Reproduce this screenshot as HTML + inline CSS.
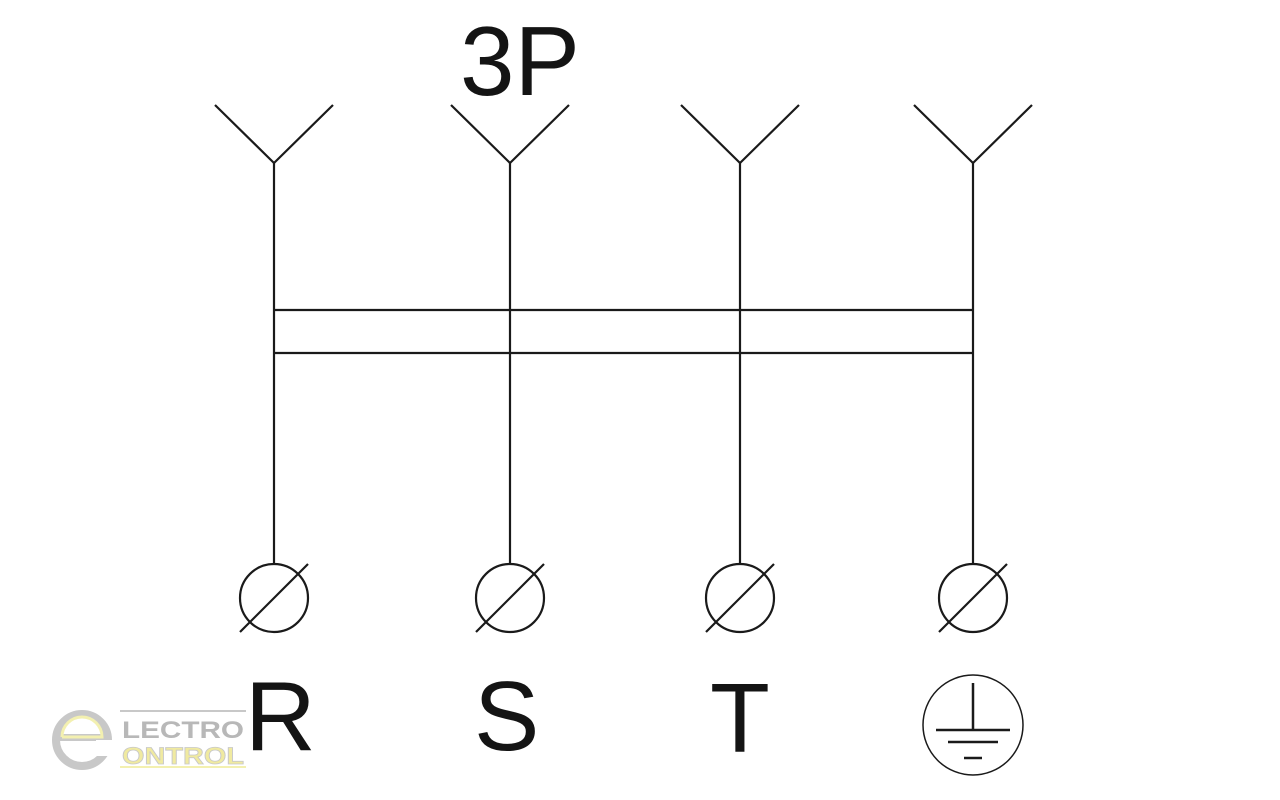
<!DOCTYPE html>
<html><head><meta charset="utf-8"><style>
html,body{margin:0;padding:0;background:#fff;width:1280px;height:800px;overflow:hidden}
</style></head><body>
<svg width="1280" height="800" viewBox="0 0 1280 800" xmlns="http://www.w3.org/2000/svg">
<g stroke="#1a1a1a" stroke-width="2.2" fill="none">
<g id="c">
<polyline points="215,105 274,163 333,105"/>
<line x1="274" y1="163" x2="274" y2="564"/>
<circle cx="274" cy="598" r="34"/>
<line x1="240" y1="632" x2="308" y2="564"/>
</g>
<use href="#c" x="236"/>
<use href="#c" x="466"/>
<use href="#c" x="699"/>
<line x1="274" y1="310" x2="973" y2="310"/>
<line x1="274" y1="353" x2="973" y2="353"/>
<circle cx="973" cy="725" r="50" stroke-width="1.5"/>
<line x1="973" y1="683" x2="973" y2="731" stroke-width="2.5"/>
<line x1="936" y1="730" x2="1010" y2="730" stroke-width="2.5"/>
<line x1="948" y1="742" x2="998" y2="742" stroke-width="2.5"/>
<line x1="964" y1="758" x2="982" y2="758" stroke-width="2.5"/>
</g>
<g font-family="Liberation Sans, sans-serif" fill="#141414" font-size="98">
<text x="460" y="95">3P</text>
<text x="245" y="750">R</text>
<text x="474" y="750">S</text>
<text x="710" y="752">T</text>
</g>
<g>
<circle cx="82" cy="740" r="26" fill="none" stroke="#c8c8c8" stroke-width="8"/>
<rect x="60" y="734" width="46" height="7" fill="#c8c8c8"/>
<rect x="96" y="740" width="16" height="16" fill="#fff"/>
<path d="M62 737 A20 20 0 1 1 102 737 L62 737" fill="none" stroke="#f3f0b0" stroke-width="3"/>
<line x1="120" y1="711" x2="246" y2="711" stroke="#c8c8c8" stroke-width="2"/>
<line x1="120" y1="767" x2="246" y2="767" stroke="#f3f0b0" stroke-width="2"/>
<text x="122" y="738" font-family="Liberation Sans, sans-serif" font-weight="bold" font-size="24" fill="#b8b8b8" textLength="122" lengthAdjust="spacingAndGlyphs">LECTRO</text>
<text x="122" y="764" font-family="Liberation Sans, sans-serif" font-weight="bold" font-size="24" fill="#f0eaa0" stroke="#c8c8c8" stroke-width="0.8" textLength="122" lengthAdjust="spacingAndGlyphs">ONTROL</text>
</g>
</svg>
</body></html>
